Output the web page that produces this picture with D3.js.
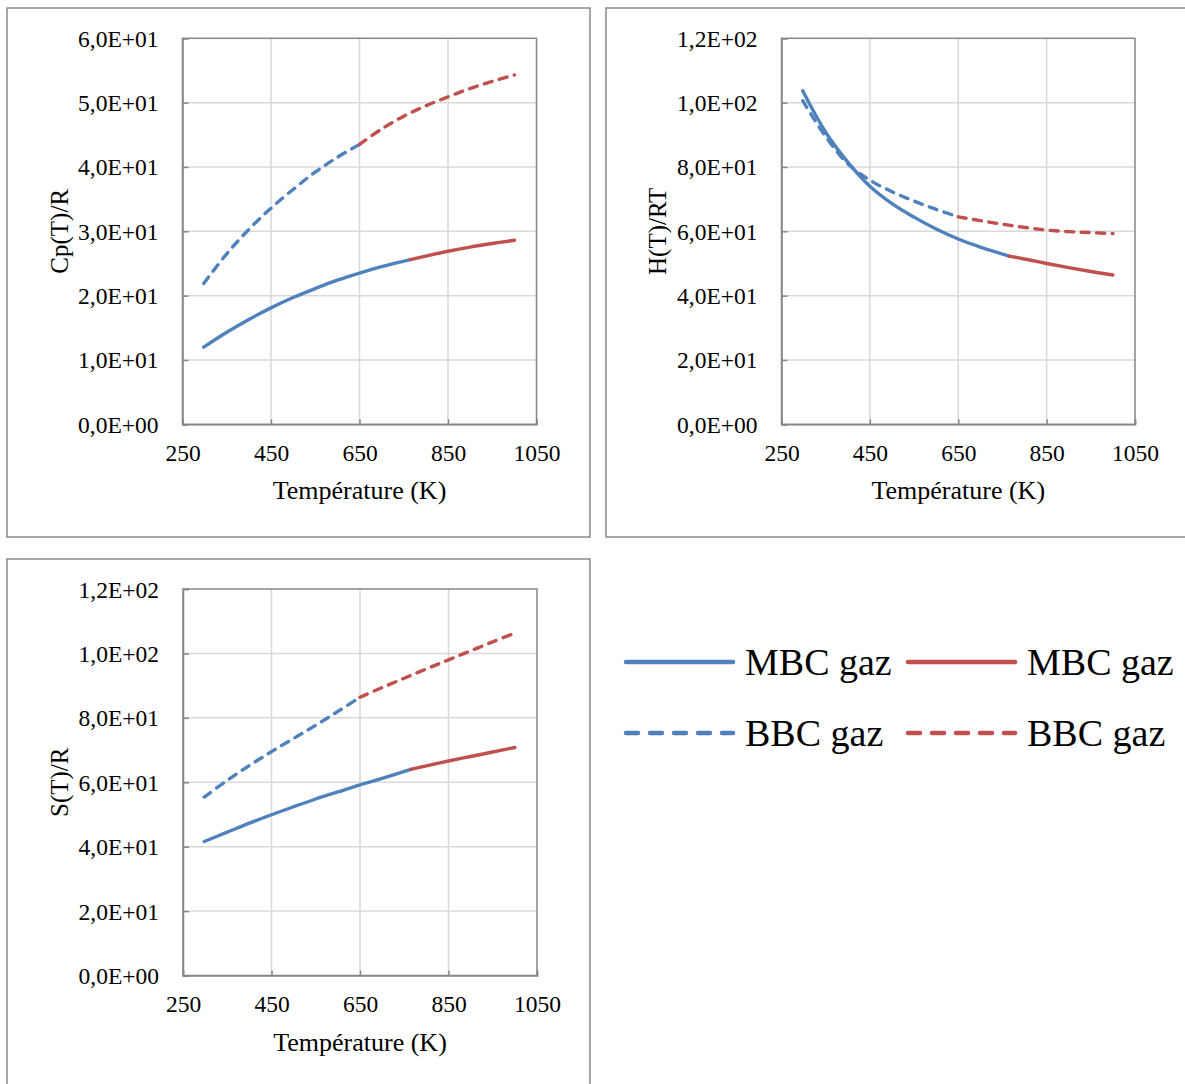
<!DOCTYPE html>
<html>
<head>
<meta charset="utf-8">
<script src="https://cdn.jsdelivr.net/npm/d3@7"></script>
<style>
  html, body { margin: 0; padding: 0; background: #fff; }
  svg { display: block; }
  text { font-family: "Liberation Serif", "Times New Roman", serif; fill: #000; }
</style>
</head>
<body>
<svg id="chart" width="1185" height="1084"></svg>
<script>
// ---------- DATA ----------
const xTicks = [250, 450, 650, 850, 1050];
const cpTicks = [0, 10, 20, 30, 40, 50, 60];
const hsTicks = [0, 20, 40, 60, 80, 100, 120];

// Temperature grids for each segment
const tMBCblue = [298, 350, 400, 450, 500, 550, 600, 650, 700, 765];
const tMBCred  = [765, 800, 850, 900, 950, 1000];
const tBBCblue = [298, 350, 400, 450, 500, 550, 600, 650];
const tBBCred  = [650, 700, 750, 800, 850, 900, 950, 1000];

// Cp(T)/R
const cpMBCblue = [12.0, 14.3, 16.3, 18.1, 19.7, 21.1, 22.4, 23.5, 24.5, 25.6];
const cpMBCred  = [25.6, 26.15, 26.9, 27.55, 28.1, 28.6];
const cpBBCblue = [21.9, 26.5, 30.3, 33.6, 36.5, 39.2, 41.5, 43.5];
const cpBBCred  = [43.5, 45.9, 47.9, 49.5, 50.9, 52.2, 53.3, 54.3];

// H(T)/RT
const hMBCblue = [103.7, 90.8, 81.5, 74.0, 68.6, 64.4, 60.7, 57.6, 55.1, 52.3];
const hMBCred  = [52.3, 51.4, 50.0, 48.7, 47.5, 46.4];
const hBBCblue = [100.6, 89.4, 81.0, 75.9, 72.3, 69.4, 66.8, 64.5];
const hBBCred  = [64.5, 63.3, 62.2, 61.2, 60.4, 59.9, 59.6, 59.3];

// S(T)/R
const sMBCblue = [41.6, 44.5, 47.3, 49.9, 52.4, 54.8, 57.0, 59.2, 61.2, 64.0];
const sMBCred  = [64.0, 65.1, 66.6, 68.0, 69.4, 70.8];
const sBBCblue = [55.4, 60.6, 65.2, 69.5, 73.6, 77.7, 82.0, 86.4];
const sBBCred  = [86.4, 89.4, 92.3, 95.2, 98.0, 100.8, 103.6, 106.3];

const legendLabels = ["MBC gaz", "MBC gaz", "BBC gaz", "BBC gaz"];
const xTitle = "Température (K)";

// ---------- STYLE ----------
const BLUE = "#4f81bd", RED = "#c0504d";
const fmtTick = v => {
  if (v === 0) return "0,0E+00";
  const e = Math.floor(Math.log10(Math.abs(v)));
  const m = v / Math.pow(10, e);
  return m.toFixed(1).replace(".", ",") + "E+" + String(e).padStart(2, "0");
};

const svg = d3.select("#chart");

const panels = [
  { box: [7, 8, 583, 529], plot: [182.5, 38.3, 536.5, 424.3], yDomain: [0, 60], yTicks: cpTicks,
    yTitle: "Cp(T)/R", yTitleX: 59, xLabY: 453, xTitleY: 490,
    series: [
      [tMBCblue, cpMBCblue, BLUE, false], [tMBCred, cpMBCred, RED, false],
      [tBBCblue, cpBBCblue, BLUE, true], [tBBCred, cpBBCred, RED, true]] },
  { box: [606, 8, 600, 529], plot: [781.5, 38.3, 1135, 424.3], yDomain: [0, 120], yTicks: hsTicks,
    yTitle: "H(T)/RT", yTitleX: 657, xLabY: 453, xTitleY: 490,
    series: [
      [tMBCblue, hMBCblue, BLUE, false], [tMBCred, hMBCred, RED, false],
      [tBBCblue, hBBCblue, BLUE, true], [tBBCred, hBBCred, RED, true]] },
  { box: [7, 559, 583, 540], plot: [183, 589, 537, 975.5], yDomain: [0, 120], yTicks: hsTicks,
    yTitle: "S(T)/R", yTitleX: 59, xLabY: 1004, xTitleY: 1042,
    series: [
      [tMBCblue, sMBCblue, BLUE, false], [tMBCred, sMBCred, RED, false],
      [tBBCblue, sBBCblue, BLUE, true], [tBBCred, sBBCred, RED, true]] }
];

panels.forEach(p => {
  const [bx, by, bw, bh] = p.box;
  svg.append("rect").attr("x", bx).attr("y", by).attr("width", bw).attr("height", bh)
    .attr("fill", "#fff").attr("stroke", "#8a8a8a").attr("stroke-width", 1.5);

  const [x0, y0, x1, y1] = p.plot;
  const x = d3.scaleLinear().domain([250, 1050]).range([x0, x1]);
  const y = d3.scaleLinear().domain(p.yDomain).range([y1, y0]);
  const g = svg.append("g");

  // gridlines
  g.selectAll(".vg").data(xTicks.slice(1, -1)).join("line")
    .attr("x1", d => x(d)).attr("x2", d => x(d)).attr("y1", y0).attr("y2", y1)
    .attr("stroke", "#d9d9d9").attr("stroke-width", 1.5);
  g.selectAll(".hg").data(p.yTicks.slice(1, -1)).join("line")
    .attr("x1", x0).attr("x2", x1).attr("y1", d => y(d)).attr("y2", d => y(d))
    .attr("stroke", "#d9d9d9").attr("stroke-width", 1.5);

  // plot border
  g.append("rect").attr("x", x0).attr("y", y0).attr("width", x1 - x0).attr("height", y1 - y0)
    .attr("fill", "none").attr("stroke", "#868686").attr("stroke-width", 1.5);

  // axes (inside ticks)
  const yAxis = d3.axisLeft(y).tickValues(p.yTicks).tickSize(-6).tickFormat(fmtTick).tickPadding(24);
  const ya = g.append("g").attr("transform", `translate(${x0},0)`).call(yAxis);
  const xAxis = d3.axisBottom(x).tickValues(xTicks).tickSize(-5).tickFormat(d3.format("d"));
  const xa = g.append("g").attr("transform", `translate(0,${y1})`).call(xAxis);
  [ya, xa].forEach(a => {
    a.select(".domain").attr("stroke", "#868686").attr("stroke-width", 1.5);
    a.selectAll(".tick line").attr("stroke", "#868686").attr("stroke-width", 1.5);
    a.selectAll("text").style("font-family", '"Liberation Serif", serif').style("font-size", "23.5px").attr("fill", "#000");
  });
  ya.selectAll(".tick text").attr("dy", "0.34em");
  xa.selectAll(".tick text").attr("y", p.xLabY - y1).attr("dy", "0.35em");

  // titles
  svg.append("text").attr("x", (x0 + x1) / 2).attr("y", p.xTitleY).attr("dy", "0.35em")
    .attr("text-anchor", "middle").style("font-size", "26px").text(xTitle);
  svg.append("text").attr("transform", `translate(${p.yTitleX},${(y0 + y1) / 2}) rotate(-90)`)
    .attr("dy", "0.35em").attr("text-anchor", "middle").style("font-size", "25px").text(p.yTitle);

  // series
  const line = d3.line().x(d => x(d[0])).y(d => y(d[1])).curve(d3.curveCatmullRom.alpha(0.5));
  p.series.forEach(([ts, vs, col, dashed]) => {
    const pts = ts.map((t, i) => [t, vs[i]]);
    g.append("path").attr("d", line(pts)).attr("fill", "none").attr("stroke", col)
      .attr("stroke-width", 3.4).attr("stroke-linecap", "round")
      .attr("stroke-dasharray", dashed ? "8,7.5" : null);
  });
});

// ---------- LEGEND ----------
const legendItems = [
  { label: legendLabels[0], color: BLUE, dashed: false, x: 624, y: 662 },
  { label: legendLabels[1], color: RED,  dashed: false, x: 906, y: 662 },
  { label: legendLabels[2], color: BLUE, dashed: true,  x: 624, y: 733 },
  { label: legendLabels[3], color: RED,  dashed: true,  x: 906, y: 733 }
];
const lg = svg.append("g");
legendItems.forEach(it => {
  lg.append("line").attr("x1", it.x + 2).attr("x2", it.x + 109).attr("y1", it.y).attr("y2", it.y)
    .attr("stroke", it.color).attr("stroke-width", 4.5).attr("stroke-linecap", "round")
    .attr("stroke-dasharray", it.dashed ? "12,12" : null);
  lg.append("text").attr("x", it.x + 121).attr("y", it.y).attr("dy", "0.35em")
    .style("font-size", "38px").text(it.label);
});
</script>
</body>
</html>
